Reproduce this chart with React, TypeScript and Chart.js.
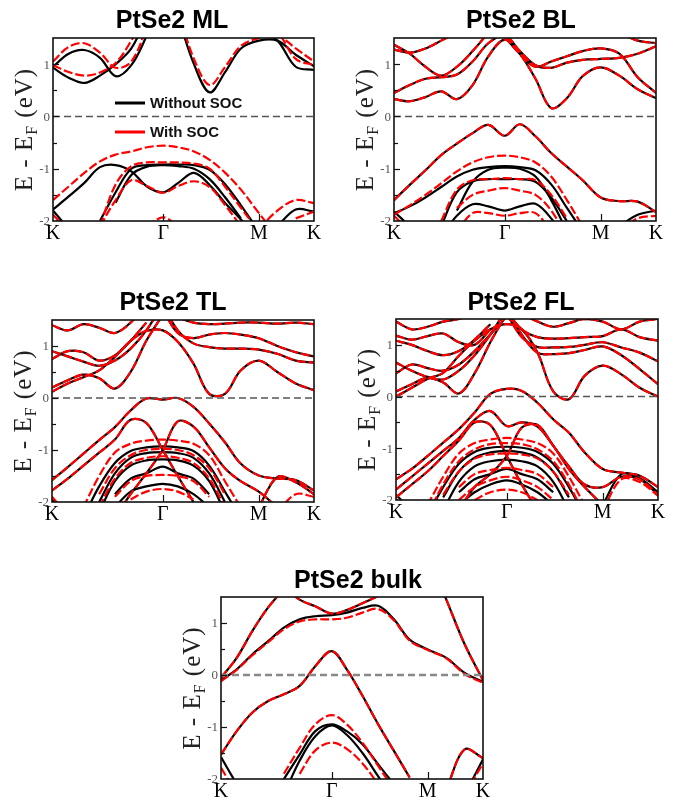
import React, { useEffect, useRef } from 'react';
import { Chart, registerables } from 'chart.js';

Chart.register(...registerables);

const _ = null;

// Sample positions along the K–Γ–M–K path (fraction of total path length)
const KPATH = [0, 0.06, 0.12, 0.18, 0.24, 0.3, 0.36, 0.4226, 0.48, 0.54, 0.6, 0.66, 0.72, 0.789, 0.86, 0.93, 1];
const SYM_POS = [0, 0.4226, 0.789, 1];
const SYM_LABELS = ['K', 'Γ', 'M', 'K'];
const E_MIN = -2;
const E_MAX = 1.5;
const E_STEP = 0.5;
const LEGEND_LABELS = ['Without SOC', 'With SOC'];

type Band = (number | null)[];

// ---------- monolayer ----------
const ML_SHARED: Band[] = [];
const ML_NOSOC: Band[] = [
  [0.93, 0.74, 0.64, 0.78, 1.0, 1.3, 1.9, _, _, _, _, _, _, _, _, _, _],
  [0.95, 1.2, 1.27, 1.12, 0.77, 0.98, 1.55, 2.2, _, _, _, _, _, _, _, _, _],
  [_, _, _, _, _, _, _, _, 1.9, 1.0, 0.46, 0.85, 1.3, 1.45, 1.45, 1.18, 0.96],
  [_, _, _, _, _, _, _, _, _, _, _, _, _, 1.65, 1.45, 0.95, 0.89],
  [-1.8, -2.15, _, _, _, _, _, _, _, _, _, _, _, _, _, _, _],
  [-1.78, -1.53, -1.27, -0.97, -0.93, -1.05, -1.34, -1.45, -1.27, -1.08, -1.31, -1.66, -1.97, -2.4, _, _, _],
  [_, _, _, -2.0, -1.45, -1.0, -0.93, -0.92, -0.92, -0.93, -1.02, -1.3, -1.7, -2.2, _, _, _],
  [_, _, _, _, -1.65, -1.12, -0.96, -0.93, -0.95, -1.0, -1.2, -1.55, -1.95, _, _, _, _],
  [_, _, _, _, _, _, _, _, _, _, _, _, _, _, -2.1, -1.78, -1.82],
];
const ML_SOC: Band[] = [
  [0.98, 0.85, 0.78, 0.84, 1.02, 1.45, 2.0, _, _, _, _, _, _, _, _, _, _],
  [1.05, 1.33, 1.4, 1.22, 0.93, 1.05, 1.7, _, _, _, _, _, _, _, _, _, _],
  [_, _, _, _, _, _, _, _, 2.0, 1.1, 0.6, 0.95, 1.35, 1.5, 1.55, 1.3, 1.05],
  [_, _, _, _, _, _, _, _, _, _, _, _, _, 1.7, 1.6, 1.1, 0.98],
  [-1.88, -2.2, _, _, _, _, _, _, _, _, _, _, _, _, _, _, _],
  [-1.6, -1.34, -1.08, -0.86, -0.73, -0.67, -0.59, -0.56, -0.59, -0.67, -0.83, -1.08, -1.4, -1.85, -2.3, _, _],
  [_, _, _, -2.1, -1.3, -0.95, -0.88, -0.88, -0.88, -0.9, -1.0, -1.35, -1.75, -2.2, _, _, _],
  [_, _, _, -2.1, -1.6, -1.22, -1.33, -1.46, -1.33, -1.24, -1.35, -1.7, -2.1, _, _, _, _],
  [_, _, _, _, _, _, -2.1, -1.93, -2.1, _, _, _, _, _, _, _, _],
  [_, _, _, _, _, _, _, _, _, _, _, _, _, -2.15, -1.8, -1.6, -1.66],
  [_, _, _, _, _, _, _, _, _, _, _, _, _, _, _, -1.95, -1.82],
];

// ---------- bilayer ----------
const BL_SHARED: Band[] = [
  [0.33, 0.29, 0.37, 0.48, 0.33, 0.6, 1.15, 1.47, 1.2, 0.72, 0.16, 0.35, 0.77, 0.94, 0.78, 0.52, 0.35],
  [0.45, 0.6, 0.72, 0.75, 0.8, 1.05, 1.4, 1.55, 1.25, 0.98, 0.93, 1.03, 1.08, 1.1, 1.12, 1.2, 1.34],
  [1.37, 1.2, 0.95, 0.78, 0.95, 1.25, 1.6, _, _, _, _, _, _, _, _, _, _],
  [_, _, _, _, _, _, _, 1.52, 1.2, 0.95, 1.05, 1.15, 1.25, 1.3, 1.2, 0.75, 0.45],
  [1.28, 1.22, 1.3, 1.45, 1.6, _, _, _, _, _, _, _, _, _, 1.6, 1.45, 1.4],
  [-1.6, -1.31, -1.03, -0.74, -0.52, -0.32, -0.16, -0.37, -0.15, -0.38, -0.7, -0.96, -1.22, -1.55, -1.62, -1.63, -1.83],
];
const BL_NOSOC: Band[] = [
  [-1.85, -1.72, -1.55, -1.35, -1.15, -1.02, -0.97, -0.95, -0.97, -1.03, -1.3, -1.75, -2.2, _, _, _, _],
  [_, _, _, -2.1, -1.45, -1.24, -1.2, -1.2, -1.2, -1.25, -1.55, -2.0, _, _, _, _, _],
  [_, _, _, -2.3, -1.9, -1.68, -1.72, -1.8, -1.72, -1.67, -1.95, -2.4, _, _, _, _, _],
  [_, _, _, _, -1.8, -1.25, -1.02, -0.98, -1.0, -1.15, -1.6, -2.2, _, _, _, _, _],
  [-1.82, -2.1, _, _, _, _, _, _, _, _, _, _, _, _, -2.1, -1.88, -1.8],
];
const BL_SOC: Band[] = [
  [-1.88, -1.7, -1.5, -1.28, -1.05, -0.88, -0.78, -0.75, -0.78, -0.88, -1.15, -1.6, -2.1, _, _, _, _],
  [_, _, _, -2.0, -1.4, -1.22, -1.2, -1.18, -1.2, -1.22, -1.5, -1.95, _, _, _, _, _],
  [_, _, _, _, -1.75, -1.5, -1.42, -1.37, -1.42, -1.5, -1.8, -2.3, _, _, _, _, _],
  [_, _, _, _, -2.2, -1.85, -1.85, -1.9, -1.85, -1.85, -2.2, _, _, _, _, _, _],
  [-1.9, -2.2, _, _, _, _, _, _, _, _, _, _, _, _, -2.2, -1.95, -1.9],
];

// ---------- trilayer ----------
const TL_SHARED: Band[] = [
  [0.12, 0.28, 0.4, 0.53, 0.79, 1.1, 1.29, 1.3, 1.08, 0.66, 0.08, 0.08, 0.53, 0.72, 0.5, 0.28, 0.15],
  [0.2, 0.34, 0.45, 0.38, 0.18, 0.5, 1.1, 1.6, _, _, _, _, _, _, _, _, _],
  [0.75, 0.9, 0.88, 0.72, 0.82, 1.1, 1.45, _, _, _, _, _, _, _, _, _, _],
  [0.9, 0.8, 0.7, 0.62, 0.72, 0.95, 1.3, 1.8, _, _, _, _, _, _, _, _, _],
  [1.4, 1.3, 1.42, 1.35, 1.25, 1.45, 1.8, _, _, _, _, _, _, _, _, _, _],
  [_, _, _, _, _, _, _, 1.8, 1.3, 1.05, 0.98, 0.95, 0.95, 0.93, 0.85, 0.72, 0.68],
  [_, _, _, _, _, _, _, 1.7, 1.25, 1.15, 1.22, 1.25, 1.22, 1.15, 1.0, 0.88, 0.8],
  [_, _, _, _, _, _, _, _, 1.55, 1.45, 1.42, 1.43, 1.45, 1.45, 1.43, 1.45, 1.42],
  [-1.58, -1.33, -1.07, -0.81, -0.56, -0.24, -0.01, -0.03, 0.0, -0.17, -0.49, -0.85, -1.26, -1.49, -1.55, -1.58, -1.78],
  [-1.78, -1.55, -1.3, -1.05, -0.8, -0.42, -0.48, -1.0, -1.5, -2.0, _, _, _, _, _, _, _],
  [_, _, _, _, -2.3, -1.85, -1.45, -1.0, -0.45, -0.55, -0.95, -1.35, -1.6, -1.8, -2.1, _, _],
  [_, _, _, _, _, _, _, _, _, _, _, _, _, -2.1, -1.52, -1.62, -1.85],
];
const TL_NOSOC: Band[] = [
  [_, _, -2.3, -1.7, -1.25, -1.02, -0.95, -0.93, -0.95, -1.02, -1.3, -1.8, -2.3, _, _, _, _],
  [_, _, _, -2.0, -1.45, -1.15, -1.06, -1.04, -1.06, -1.15, -1.45, -2.0, _, _, _, _, _],
  [_, _, _, -2.2, -1.6, -1.3, -1.2, -1.18, -1.2, -1.3, -1.6, -2.2, _, _, _, _, _],
  [_, _, _, _, -1.85, -1.55, -1.45, -1.32, -1.45, -1.55, -1.85, _, _, _, _, _, _],
  [_, _, _, _, -2.1, -1.8, -1.7, -1.65, -1.7, -1.85, -2.1, _, _, _, _, _, _],
  [-1.95, -2.3, _, _, _, _, _, _, _, _, _, _, _, _, _, _, _],
];
const TL_SOC: Band[] = [
  [_, _, -2.1, -1.5, -1.05, -0.88, -0.82, -0.8, -0.82, -0.88, -1.1, -1.6, -2.1, _, _, _, _],
  [_, _, _, -1.85, -1.35, -1.1, -1.0, -0.98, -1.0, -1.1, -1.35, -1.85, _, _, _, _, _],
  [_, _, _, -2.1, -1.55, -1.25, -1.15, -1.12, -1.15, -1.25, -1.55, -2.1, _, _, _, _, _],
  [_, _, _, _, -1.9, -1.6, -1.5, -1.48, -1.5, -1.6, -1.9, _, _, _, _, _, _],
  [_, _, _, _, _, -1.95, -1.8, -1.75, -1.8, -1.95, _, _, _, _, _, _, _],
  [-1.9, -2.25, _, _, _, _, _, _, _, _, _, _, _, _, _, _, _],
  [_, _, _, _, _, _, _, _, _, _, _, _, _, _, -2.2, -1.85, -1.9],
];

// ---------- four-layer ----------
const FL_SHARED: Band[] = [
  [0.0, 0.17, 0.34, 0.46, 0.79, 1.08, 1.3, 1.4, 1.3, 0.85, 0.1, -0.05, 0.4, 0.6, 0.43, 0.17, 0.0],
  [0.1, 0.24, 0.36, 0.27, 0.06, 0.45, 1.05, 1.6, _, _, _, _, _, _, _, _, _],
  [0.45, 0.62, 0.55, 0.5, 0.62, 0.88, 1.2, 1.55, _, _, _, _, _, _, _, _, _],
  [0.66, 0.5, 0.38, 0.33, 0.5, 0.8, 1.2, 1.7, _, _, _, _, _, _, _, _, _],
  [1.08, 1.0, 0.88, 0.8, 0.88, 1.1, 1.4, _, _, _, _, _, _, _, _, _, _],
  [1.18, 1.1, 1.17, 1.22, 1.05, 1.0, 1.3, _, _, _, _, _, _, _, _, _, _],
  [1.45, 1.3, 1.35, 1.45, 1.5, 1.6, _, _, _, _, _, _, _, _, _, _, _],
  [_, _, _, _, _, _, _, 1.7, 1.2, 0.85, 0.82, 0.84, 0.9, 0.97, 0.8, 0.53, 0.24],
  [_, _, _, _, _, _, _, 1.6, 1.15, 0.96, 0.95, 0.96, 1.0, 1.05, 0.95, 0.85, 0.68],
  [_, _, _, _, _, _, _, 1.65, 1.3, 1.15, 1.12, 1.13, 1.15, 1.17, 1.3, 1.15, 1.08],
  [_, _, _, _, _, _, _, _, 1.6, 1.45, 1.35, 1.42, 1.5, 1.45, 1.3, 1.45, 1.5],
  [-1.6, -1.4, -1.15, -0.89, -0.63, -0.31, 0.05, 0.15, 0.11, -0.12, -0.44, -0.7, -1.08, -1.4, -1.47, -1.53, -1.75],
  [-1.8, -1.55, -1.3, -1.05, -0.8, -0.45, -0.28, -0.57, -0.5, -0.58, -0.95, -1.4, -1.75, -2.1, _, _, _],
  [-1.95, -1.7, -1.45, -1.15, -0.85, -0.5, -0.55, -1.15, -1.7, -2.2, _, _, _, _, _, _, _],
  [_, _, _, _, -2.2, -1.75, -1.5, -1.15, -0.6, -0.55, -0.95, -1.35, -1.7, -1.75, -1.55, -1.6, -1.9],
];
const FL_NOSOC: Band[] = [
  [_, _, -2.3, -1.75, -1.3, -1.07, -0.99, -0.97, -0.99, -1.07, -1.3, -1.75, -2.3, _, _, _, _],
  [_, _, _, -1.95, -1.45, -1.18, -1.08, -1.05, -1.08, -1.18, -1.45, -1.95, _, _, _, _, _],
  [_, _, _, -2.2, -1.65, -1.35, -1.25, -1.22, -1.25, -1.35, -1.65, -2.2, _, _, _, _, _],
  [_, _, _, _, -1.85, -1.6, -1.5, -1.4, -1.5, -1.6, -1.85, _, _, _, _, _, _],
  [_, _, _, _, -2.1, -1.85, -1.7, -1.62, -1.7, -1.85, -2.1, _, _, _, _, _, _],
  [-1.9, -2.2, _, _, _, _, _, _, _, _, _, _, _, _, _, _, _],
  [_, _, _, _, _, _, _, _, _, _, _, _, _, -2.1, -1.5, -1.58, -1.85],
];
const FL_SOC: Band[] = [
  [_, _, -2.1, -1.55, -1.1, -0.9, -0.83, -0.8, -0.83, -0.9, -1.1, -1.55, -2.1, _, _, _, _],
  [_, _, -2.3, -1.7, -1.25, -1.02, -0.92, -0.9, -0.92, -1.02, -1.25, -1.7, -2.3, _, _, _, _],
  [_, _, _, -1.9, -1.45, -1.2, -1.12, -1.1, -1.12, -1.2, -1.45, -1.9, _, _, _, _, _],
  [_, _, _, _, -1.75, -1.5, -1.42, -1.38, -1.42, -1.5, -1.75, _, _, _, _, _, _],
  [_, _, _, _, -2.0, -1.75, -1.62, -1.55, -1.62, -1.75, -2.0, _, _, _, _, _, _],
  [_, _, _, _, _, -2.0, -1.85, -1.8, -1.85, -2.0, _, _, _, _, _, _, _],
  [-1.98, -2.3, _, _, _, _, _, _, _, _, _, _, _, _, _, _, _],
  [_, _, _, _, _, _, _, _, _, _, _, _, _, -2.2, -1.6, -1.65, -1.92],
];

// ---------- bulk ----------
const BULK_SHARED: Band[] = [
  [-0.05, 0.33, 0.85, 1.3, 1.65, _, _, _, _, _, _, _, _, _, _, _, _],
  [_, _, _, _, 1.7, 1.45, 1.32, 1.18, 1.25, 1.38, 1.52, _, _, _, _, _, _],
  [_, _, _, _, _, _, _, _, _, _, _, _, _, 2.3, 1.45, 0.59, -0.1],
  [-1.53, -1.08, -0.72, -0.5, -0.37, -0.21, 0.17, 0.46, 0.11, -0.4, -0.95, -1.46, -1.97, _, _, _, _],
  [_, _, _, _, _, _, _, _, _, _, _, _, _, _, -2.2, -1.43, -1.6],
];
const BULK_NOSOC: Band[] = [
  [-0.1, 0.11, 0.4, 0.65, 0.91, 1.07, 1.13, 1.15, 1.2, 1.29, 1.33, 1.07, 0.68, 0.49, 0.33, 0.04, -0.13],
  [_, _, _, _, -2.0, -1.53, -1.08, -0.95, -1.08, -1.33, -1.72, -2.1, _, _, _, _, _],
  [_, _, _, _, -2.3, -1.65, -1.18, -0.97, -1.15, -1.5, -1.95, -2.4, _, _, _, _, _],
  [-1.58, -2.1, _, _, _, _, _, _, _, _, _, _, _, _, _, _, _],
  [_, _, _, _, _, _, _, _, _, _, _, _, _, _, _, -2.3, -1.62],
];
const BULK_SOC: Band[] = [
  [-0.12, 0.1, 0.38, 0.63, 0.88, 1.03, 1.07, 1.07, 1.1, 1.2, 1.27, 1.05, 0.66, 0.48, 0.32, 0.02, -0.15],
  [_, _, _, _, -1.9, -1.4, -0.95, -0.77, -0.95, -1.3, -1.75, -2.2, _, _, _, _, _],
  [_, _, _, _, _, -1.9, -1.45, -1.3, -1.42, -1.7, -2.1, _, _, _, _, _, _],
  [-1.78, -2.3, _, _, _, _, _, _, _, _, _, _, _, _, _, _, _],
  [_, _, _, _, _, _, _, _, _, _, _, _, _, _, _, -2.3, -1.7],
];

type Box = { left: number; top: number; width: number; height: number };
type Area = { left: number; top: number; right: number; bottom: number };
interface PanelSpec {
  title: string;
  shared: Band[];
  noSoc: Band[];
  soc: Band[];
  canvas: Box;
  area: Area;
  titleX: number;
  titleY: number;
  legend: boolean;
  zeroColor: string;
  zeroWidth: number;
}

const PANELS: PanelSpec[] = [
  {
    title: 'PtSe2 ML', shared: ML_SHARED, noSoc: ML_NOSOC, soc: ML_SOC,
    canvas: { left: 0, top: 0, width: 340, height: 250 },
    area: { left: 53, top: 38, right: 314, bottom: 221 },
    titleX: 172, titleY: 28, legend: true, zeroColor: '#555', zeroWidth: 1.6,
  },
  {
    title: 'PtSe2 BL', shared: BL_SHARED, noSoc: BL_NOSOC, soc: BL_SOC,
    canvas: { left: 340, top: 0, width: 340, height: 250 },
    area: { left: 394, top: 38, right: 656, bottom: 221 },
    titleX: 521, titleY: 28, legend: false, zeroColor: '#555', zeroWidth: 1.6,
  },
  {
    title: 'PtSe2 TL', shared: TL_SHARED, noSoc: TL_NOSOC, soc: TL_SOC,
    canvas: { left: 0, top: 268, width: 340, height: 264 },
    area: { left: 52, top: 320, right: 314, bottom: 502 },
    titleX: 173, titleY: 310, legend: false, zeroColor: '#555', zeroWidth: 1.6,
  },
  {
    title: 'PtSe2 FL', shared: FL_SHARED, noSoc: FL_NOSOC, soc: FL_SOC,
    canvas: { left: 340, top: 268, width: 340, height: 264 },
    area: { left: 396, top: 319, right: 658, bottom: 500 },
    titleX: 521, titleY: 310, legend: false, zeroColor: '#555', zeroWidth: 1.6,
  },
  {
    title: 'PtSe2 bulk', shared: BULK_SHARED, noSoc: BULK_NOSOC, soc: BULK_SOC,
    canvas: { left: 170, top: 548, width: 340, height: 254 },
    area: { left: 221, top: 597, right: 483, bottom: 779 },
    titleX: 358, titleY: 588, legend: false, zeroColor: '#888', zeroWidth: 2.6,
  },
];

function isWhole(v: number) {
  return Math.abs(v - Math.round(v)) < 1e-6;
}

// Frame, inward ticks, panel title, energy-axis label and legend
function decorPlugin(p: PanelSpec) {
  return {
    id: 'bandDecor',
    afterDraw(chart: any) {
      const { ctx, chartArea: a } = chart;
      const xs = chart.scales.x;
      const ys = chart.scales.y;
      const ox = p.canvas.left;
      const oy = p.canvas.top;
      ctx.save();

      ctx.strokeStyle = '#111';
      ctx.lineWidth = 1.2;
      ys.ticks.forEach((t: any) => {
        if (t.value <= E_MIN || t.value >= E_MAX) return;
        const y = Math.round(ys.getPixelForValue(t.value)) + 0.5;
        const len = isWhole(t.value) ? 6 : 4;
        ctx.beginPath();
        ctx.moveTo(a.left, y);
        ctx.lineTo(a.left + len, y);
        ctx.stroke();
      });
      xs.ticks.forEach((t: any) => {
        if (t.value <= 0 || t.value >= 1) return;
        const x = Math.round(xs.getPixelForValue(t.value)) + 0.5;
        ctx.beginPath();
        ctx.moveTo(x, a.bottom);
        ctx.lineTo(x, a.bottom - 7);
        ctx.stroke();
      });

      ctx.lineWidth = 1.6;
      ctx.strokeRect(a.left, a.top, a.right - a.left, a.bottom - a.top);

      ctx.fillStyle = '#000';
      ctx.font = 'bold 25px "Liberation Sans"';
      ctx.textAlign = 'center';
      ctx.textBaseline = 'alphabetic';
      ctx.fillText(p.title, p.titleX - ox, p.titleY - oy);

      // E - E_F (eV)
      ctx.save();
      ctx.translate(a.left - 21, (a.top + a.bottom) / 2);
      ctx.rotate(-Math.PI / 2);
      ctx.textAlign = 'left';
      ctx.fillStyle = '#222';
      if ('letterSpacing' in ctx) (ctx as any).letterSpacing = '1px';
      const parts = [
        { t: 'E - E', f: '25px "Liberation Serif"', dy: 0 },
        { t: 'F', f: '16px "Liberation Serif"', dy: 5 },
        { t: ' (eV)', f: '25px "Liberation Serif"', dy: 0 },
      ];
      let total = 0;
      parts.forEach((pt) => {
        ctx.font = pt.f;
        total += ctx.measureText(pt.t).width;
      });
      let cx = -total / 2;
      parts.forEach((pt) => {
        ctx.font = pt.f;
        ctx.fillText(pt.t, cx, pt.dy);
        cx += ctx.measureText(pt.t).width;
      });
      ctx.restore();

      if (p.legend) {
        const colors = ['#000000', '#ff0000'];
        ctx.font = 'bold 15px "Liberation Sans"';
        ctx.textAlign = 'left';
        ctx.textBaseline = 'middle';
        LEGEND_LABELS.forEach((label, i) => {
          const y = a.top + 65 + i * 29;
          ctx.strokeStyle = colors[i];
          ctx.lineWidth = 3;
          ctx.beginPath();
          ctx.moveTo(a.left + 62, y);
          ctx.lineTo(a.left + 92, y);
          ctx.stroke();
          ctx.fillStyle = '#111';
          ctx.fillText(label, a.left + 97, y + 1);
        });
      }
      ctx.restore();
    },
  };
}

function buildConfig(p: PanelSpec): any {
  const c = p.canvas;
  const a = p.area;
  const toPoints = (band: Band) => KPATH.map((k, i) => ({ x: k, y: band[i] }));
  const base = { pointRadius: 0, tension: 0.35, fill: false, spanGaps: false, clip: 0 };
  const datasets: any[] = [
    ...[...p.shared, ...p.noSoc].map((b) => ({
      ...base, data: toPoints(b), borderColor: '#000000', borderWidth: 2.2, order: 2,
    })),
    ...[...p.shared, ...p.soc].map((b) => ({
      ...base, data: toPoints(b), borderColor: '#ff0000', borderWidth: 2.2, borderDash: [9, 3], order: 1,
    })),
    {
      ...base, tension: 0, data: [{ x: 0, y: 0 }, { x: 1, y: 0 }],
      borderColor: p.zeroColor, borderWidth: p.zeroWidth, borderDash: [7, 4], order: 0,
    },
  ];
  return {
    type: 'line',
    data: { datasets },
    options: {
      responsive: false,
      animation: false,
      devicePixelRatio: 1,
      events: [],
      layout: { padding: { left: 0, top: a.top - c.top, right: c.left + c.width - a.right, bottom: 0 } },
      plugins: { legend: { display: false }, tooltip: { enabled: false }, title: { display: false } },
      scales: {
        x: {
          type: 'linear',
          min: 0,
          max: 1,
          afterBuildTicks: (s: any) => {
            s.ticks = SYM_POS.map((v) => ({ value: v }));
          },
          afterFit: (s: any) => {
            s.height = c.top + c.height - a.bottom;
          },
          grid: { display: false, drawTicks: false },
          border: { display: false },
          ticks: {
            autoSkip: false,
            maxRotation: 0,
            padding: 1,
            color: '#000',
            font: { family: 'Liberation Serif', size: 20 },
            callback: (_v: any, i: number) => SYM_LABELS[i],
          },
        },
        y: {
          type: 'linear',
          min: E_MIN,
          max: E_MAX,
          afterFit: (s: any) => {
            s.width = a.left - c.left;
          },
          grid: { display: false, drawTicks: false },
          border: { display: false },
          ticks: {
            stepSize: E_STEP,
            autoSkip: false,
            padding: 3,
            labelOffset: 1,
            color: '#555',
            font: { family: 'Liberation Serif', size: 13 },
            callback: (v: number) => (isWhole(v) ? String(Math.round(v)) : ''),
          },
        },
      },
    },
    plugins: [decorPlugin(p)],
  };
}

function BandPanel({ panel }: { panel: PanelSpec }) {
  const ref = useRef<HTMLCanvasElement>(null);
  useEffect(() => {
    if (!ref.current) return;
    const chart = new Chart(ref.current, buildConfig(panel));
    return () => chart.destroy();
  }, [panel]);
  const c = panel.canvas;
  return (
    <canvas
      ref={ref}
      width={c.width}
      height={c.height}
      style={{ position: 'absolute', left: c.left, top: c.top, width: c.width, height: c.height }}
    />
  );
}

export default function App() {
  return (
    <div style={{ position: 'absolute', left: 0, top: 0, width: 680, height: 802, background: '#fff' }}>
      {PANELS.map((p) => (
        <BandPanel key={p.title} panel={p} />
      ))}
    </div>
  );
}
